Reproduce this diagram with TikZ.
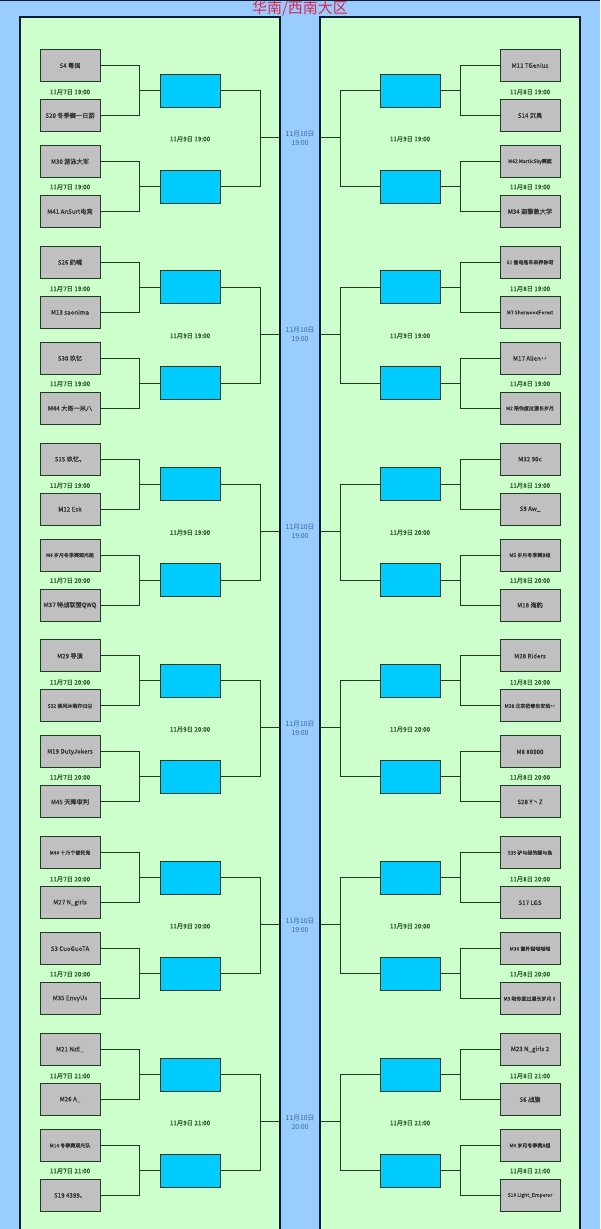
\documentclass[tikz,border=0pt]{standalone}
\usepackage{fontspec}
\setmainfont{Noto Sans CJK SC}
\newfontfamily\teamfont{Noto Sans CJK SC}[FakeBold=0.5,AutoFakeBold=0.5]
\definecolor{skyback}{HTML}{99CCFF}
\definecolor{panelgreen}{HTML}{CCFFCC}
\definecolor{panelline}{HTML}{0B1B35}
\definecolor{teamgray}{HTML}{C0C0C0}
\definecolor{slotblue}{HTML}{00CCFF}
\definecolor{linkgreen}{HTML}{1E3A22}
\definecolor{daygreen}{HTML}{2F5F2F}
\definecolor{roundblue}{HTML}{3465A4}
\definecolor{titlered}{HTML}{E0244C}
\newcommand{\smallname}{\fontsize{5}{5.5}\selectfont}

% one quarter of the bracket, left half
\newcommand{\leftblock}[8]{%
  \pgfmathsetmacro{\blocky}{48+(#1-1)*196.8}
  \node[team] (L#1a) at (70,\blocky+17.5) {#2};
  \node[team] (L#1b) at (70,\blocky+67.5) {#3};
  \node[team] (L#1c) at (70,\blocky+113.5) {#4};
  \node[team] (L#1d) at (70,\blocky+163.5) {#5};
  \node[slot] (L#1w) at (190,\blocky+42.5) {};
  \node[slot] (L#1x) at (190,\blocky+138.5) {};
  \node[day] (L#1p) at (70,\blocky+44) {#6};
  \node[day] (L#1q) at (70,\blocky+139) {#7};
  \node[day] (L#1r) at (190,\blocky+91) {#8};
  \coordinate (L#1e) at (280,\blocky+89.5);
  \draw[link] (L#1a.east) -| ([xshift=-20pt]L#1w.west) -- (L#1w.west);
  \draw[link] (L#1b.east) -| ([xshift=-20pt]L#1w.west);
  \draw[link] (L#1c.east) -| ([xshift=-20pt]L#1x.west) -- (L#1x.west);
  \draw[link] (L#1d.east) -| ([xshift=-20pt]L#1x.west);
  \draw[link] (L#1w.east) -| ([xshift=-20pt]L#1e) -- (L#1e);
  \draw[link] (L#1x.east) -| ([xshift=-20pt]L#1e);
}

% the same, right half
\newcommand{\rightblock}[8]{%
  \pgfmathsetmacro{\blocky}{48+(#1-1)*196.8}
  \node[team] (R#1a) at (530,\blocky+17.5) {#2};
  \node[team] (R#1b) at (530,\blocky+67.5) {#3};
  \node[team] (R#1c) at (530,\blocky+113.5) {#4};
  \node[team] (R#1d) at (530,\blocky+163.5) {#5};
  \node[slot] (R#1w) at (410,\blocky+42.5) {};
  \node[slot] (R#1x) at (410,\blocky+138.5) {};
  \node[day] (R#1p) at (530,\blocky+44) {#6};
  \node[day] (R#1q) at (530,\blocky+139) {#7};
  \node[day] (R#1r) at (410,\blocky+91) {#8};
  \coordinate (R#1e) at (320,\blocky+89.5);
  \draw[link] (R#1a.west) -| ([xshift=20pt]R#1w.east) -- (R#1w.east);
  \draw[link] (R#1b.west) -| ([xshift=20pt]R#1w.east);
  \draw[link] (R#1c.west) -| ([xshift=20pt]R#1x.east) -- (R#1x.east);
  \draw[link] (R#1d.west) -| ([xshift=20pt]R#1x.east);
  \draw[link] (R#1w.west) -| ([xshift=20pt]R#1e) -- (R#1e);
  \draw[link] (R#1x.west) -| ([xshift=20pt]R#1e);
}

\begin{document}
\begin{tikzpicture}[
  x=1pt, y=-1pt,
  panel/.style={draw=panelline, line width=1.6pt, fill=panelgreen},
  team/.style={draw=linkgreen, line width=1pt, fill=teamgray, minimum width=60pt,
    minimum height=32pt, inner sep=0pt, text=black!80, font=\teamfont\fontsize{6.2}{7}\selectfont},
  slot/.style={draw=linkgreen, line width=1pt, fill=slotblue, minimum width=60pt,
    minimum height=33pt, inner sep=0pt},
  day/.style={text=daygreen, inner sep=0pt, font=\teamfont\fontsize{6.3}{7}\selectfont},
  round/.style={text=roundblue, inner sep=0pt, align=center, font=\fontsize{6.8}{9}\selectfont},
  link/.style={draw=linkgreen, line width=1pt}
]
\useasboundingbox (0,0) rectangle (600,1229);
\clip (0,0) rectangle (600,1229);
\fill[skyback] (0,0) rectangle (600,1229);
\draw[panelline, line width=1.5pt] (0,0) -- (600,0);
\draw[panel] (20,17) rectangle (280,1300);
\draw[panel] (320,17) rectangle (580,1300);
\node[text=titlered, inner sep=0pt, font=\fontsize{15}{16}\selectfont] (title) at (300,9) {华南/西南大区};

\leftblock{1}{S4 粤闽}{S20 冬季赛一日游}{M30 游泳大军}{M41 AnSurt电竞}{11月7日 19:00}{11月7日 19:00}{11月9日 19:00}
\leftblock{2}{S26 奶嘴}{M13 saonima}{S30 玖忆}{M44 大哥一米八}{11月7日 19:00}{11月7日 19:00}{11月9日 19:00}
\leftblock{3}{S15 玖忆、}{M12 Esk}{\smallname M6 岁月冬季赛观光组}{M37 特战联盟QWQ}{11月7日 19:00}{11月7日 20:00}{11月9日 19:00}
\leftblock{4}{M29 导演}{\smallname S32 拂风沐雨亦归尘}{M19 DutyJokers}{M45 天降审判}{11月7日 20:00}{11月7日 20:00}{11月9日 20:00}
\leftblock{5}{\smallname M40 十万个替死鬼}{M27 N\_girls}{S3 CuoGuoTA}{M35 EnvyUs}{11月7日 20:00}{11月7日 20:00}{11月9日 20:00}
\leftblock{6}{M21 NzE\_}{M26 A\_}{\smallname M14 冬季赛观光队}{S19 4399、}{11月7日 21:00}{11月7日 21:00}{11月9日 21:00}

\rightblock{1}{M11 TGenius}{S14 沉臭}{\smallname M62 MarticSky赛艇}{M34 迦黎敦大学}{11月8日 19:00}{11月8日 19:00}{11月9日 19:00}
\rightblock{2}{\smallname S1 偷电瓶车来养你呀}{\smallname M7 SherwoodForest}{M17 Alien丷}{\smallname M2 陪你度过漫长岁月}{11月8日 19:00}{11月8日 19:00}{11月9日 19:00}
\rightblock{3}{M32 90c}{S9 Aw\_}{\smallname M5 岁月冬季赛B组}{M18 海豹}{11月8日 19:00}{11月8日 20:00}{11月9日 20:00}
\rightblock{4}{M28 Riders}{\smallname M38 北京莅春东安热丷}{M8 80000}{S28 Y丶Z}{11月8日 20:00}{11月8日 20:00}{11月9日 20:00}
\rightblock{5}{\smallname S35 驴与绿的鲤与鱼}{S17 LGS}{\smallname M36 窗外猫喵喵喵}{\smallname M3 陪你度过漫长岁月Ⅱ}{11月8日 20:00}{11月8日 20:00}{11月9日 20:00}
\rightblock{6}{M23 N\_girls 2}{S6 战旗}{\smallname M4 岁月冬季赛A组}{\smallname S10 Light\_Emperor}{11月8日 21:00}{11月8日 21:00}{11月9日 21:00}

% semi-final times in the gutter
\foreach \b/\t in {1/19:00, 2/19:00, 3/19:00, 4/19:00, 5/19:00, 6/20:00}
  \node[round] (G\b) at ({300},{48+(\b-1)*196.8+90}) {11月10日\\\t};

% next boxes, cut by the page edge
\node[team] (L7a) at (70,1246.3) {};
\node[team] (R7a) at (530,1246.3) {};
\end{tikzpicture}
\end{document}
